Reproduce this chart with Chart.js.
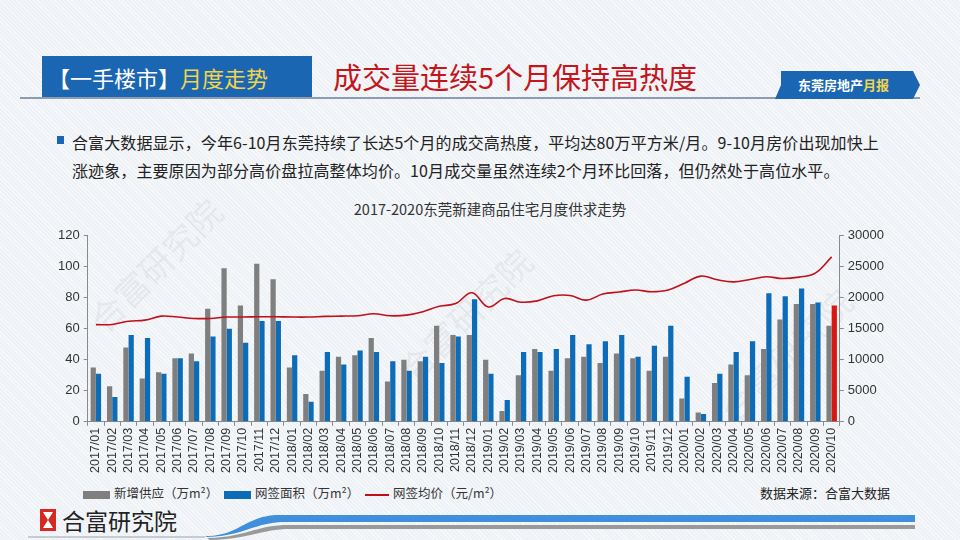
<!DOCTYPE html>
<html>
<head>
<meta charset="utf-8">
<script src="https://cdn.jsdelivr.net/npm/chart.js@4"></script>
<style>
  html, body { margin: 0; padding: 0; }
  body {
    width: 960px; height: 540px; position: relative; overflow: hidden;
    font-family: "Noto Sans CJK SC", "Liberation Sans", sans-serif;
    background-color: #eef1f5;
    background-image: repeating-linear-gradient(45deg, rgba(255,255,255,0.55) 0 1px, transparent 1px 3px);
  }
  .abs { position: absolute; }
  .wm { position: absolute; color: rgba(150,160,175,0.14); font-size: 34px; transform: rotate(-45deg); white-space: nowrap; }
  #hdrBox { left: 42px; top: 56px; width: 270px; height: 42px; background: #1a66b3; color: #fff; font-size: 22px; line-height: 42px; padding-left: 6px; box-sizing: border-box; }
  #hdrBox span { color: #f3d54a; }
  #hdrTitle { left: 333px; top: 56px; font-size: 29px; color: #c3161c; line-height: 40px; }
  #hdrLine { left: 20px; top: 97px; width: 900px; height: 2px; background: #8c9db3; }
  #tag { left: 775px; top: 71px; width: 145px; height: 28px; }
  #tagText { left: 798px; top: 71px; line-height: 28px; font-size: 13px; font-weight: bold; color: #fff; }
  #tagText span { color: #f3d54a; }
  .txt { left: 72px; font-size: 16px; letter-spacing: 0.1px; color: #222; white-space: nowrap; }
  #bullet { left: 57px; top: 136px; width: 7px; height: 8px; background: #1a66b3; }
  #ctitle { left: 290px; width: 400px; top: 198px; text-align: center; font-size: 14.5px; color: #333; }
  #wrap { left: 40px; top: 224px; width: 852px; height: 251px; }
  .lg { top: 484px; font-size: 12.5px; color: #333; line-height: 18px; white-space: nowrap; }
  .sw { display: inline-block; vertical-align: middle; margin-right: 4px; }
  #src { left: 760px; top: 484px; font-size: 13px; color: #222; line-height: 18px; }
  #logoText { left: 62px; top: 504px; font-size: 23px; color: #222; line-height: 32px; }
</style>
</head>
<body>
<div class="wm" style="left:70px;top:240px;">合富研究院</div>
<div class="wm" style="left:380px;top:290px;">合富研究院</div>
<div class="wm" style="left:700px;top:330px;">合富研究院</div>

<div id="hdrBox" class="abs">【一手楼市】<span>月度走势</span></div>
<div id="hdrTitle" class="abs">成交量连续5个月保持高热度</div>
<div id="hdrLine" class="abs"></div>
<svg id="tag" class="abs" viewBox="0 0 145 28"><polygon points="6,0 138,0 145,14 138,28 0,28 6,14" fill="#1a66b3"/></svg>
<div id="tagText" class="abs">东莞房地产<span>月报</span></div>

<div id="bullet" class="abs"></div>
<div class="abs txt" style="top:130px;">合富大数据显示，今年6-10月东莞持续了长达5个月的成交高热度，平均达80万平方米/月。9-10月房价出现加快上</div>
<div class="abs txt" style="top:158px;">涨迹象，主要原因为部分高价盘拉高整体均价。10月成交量虽然连续2个月环比回落，但仍然处于高位水平。</div>

<div id="ctitle" class="abs">2017-2020东莞新建商品住宅月度供求走势</div>
<div id="wrap" class="abs"><canvas id="c"></canvas></div>

<div class="abs lg" style="left:83px;"><span class="sw" style="width:27px;height:8px;background:#7f7f7f;"></span>新增供应（万m²）</div>
<div class="abs lg" style="left:224px;"><span class="sw" style="width:27px;height:8px;background:#0d6cb8;"></span>网签面积（万m²）</div>
<div class="abs lg" style="left:365px;"><span class="sw" style="width:24px;height:2px;background:#c0101a;"></span>网签均价（元/m²）</div>
<div id="src" class="abs">数据来源：合富大数据</div>

<svg class="abs" style="left:40px;top:509px;" width="16" height="22" viewBox="0 0 16 22">
  <rect width="16" height="22" fill="#d42a22"/>
  <polygon points="3,3 13,3 8,11 13,19 3,19 8,11" fill="#fff"/>
</svg>
<div id="logoText" class="abs">合富研究院</div>
<svg class="abs" style="left:0;top:505px;" width="960" height="35" viewBox="0 0 960 35">
  <path d="M28 32 L205 32" stroke="#9aa3ad" stroke-width="1.2" fill="none"/>
  <path d="M205 31 C240 31 245 10 280 10 L915 10 L915 17 L285 17 C255 17 245 31 207 32 Z" fill="#3f8fdc"/>
  <path d="M207 33 C245 33 255 20 288 20 L915 20 L915 24 L290 24 C262 24 250 34 210 35 Z" fill="#9a9a9a"/>
</svg>

<script>
const months = [
  "2017/01","2017/02","2017/03","2017/04","2017/05","2017/06","2017/07","2017/08","2017/09","2017/10","2017/11","2017/12",
  "2018/01","2018/02","2018/03","2018/04","2018/05","2018/06","2018/07","2018/08","2018/09","2018/10","2018/11","2018/12",
  "2019/01","2019/02","2019/03","2019/04","2019/05","2019/06","2019/07","2019/08","2019/09","2019/10","2019/11","2019/12",
  "2020/01","2020/02","2020/03","2020/04","2020/05","2020/06","2020/07","2020/08","2020/09","2020/10"
];
// 新增供应（万m²）
const supply = [
  35, 23, 48, 28, 32, 41, 44, 73, 99, 75, 102, 92,
  35, 18, 33, 42, 43, 54, 26, 40, 39, 62, 56, 56,
  40, 7, 30, 47, 33, 41, 42, 38, 44, 41, 33, 42,
  15, 6, 25, 37, 30, 47, 66, 76, 76, 62
];
// 网签面积（万m²）
const signed = [
  31, 16, 56, 54, 31, 41, 39, 55, 60, 51, 65, 65,
  43, 13, 45, 37, 46, 45, 39, 33, 42, 38, 55, 79,
  31, 14, 45, 45, 47, 56, 50, 52, 56, 42, 49, 62,
  29, 5, 31, 45, 52, 83, 81, 86, 77, 75
];
// 网签均价（元/m²）
const price = [
  15680, 15700, 16230, 16400, 17050, 16900, 16670, 16670, 16900, 16900, 16950, 16940,
  16900, 16900, 17000, 17050, 17100, 17430, 17100, 17210, 17760, 18630, 19070, 20820,
  18520, 19890, 19290, 19510, 20330, 20380, 19620, 20600, 20930, 21260, 20980, 21260,
  22350, 23500, 22900, 22570, 22950, 23390, 23110, 23340, 23990, 26610
];
const leftTicks = [0, 20, 40, 60, 80, 100, 120];
const rightTicks = [0, 5000, 10000, 15000, 20000, 25000, 30000];

const signedColors = signed.map((v, i) => i === signed.length - 1 ? "#d9160f" : "#0d6cb8");

const axisColor = "#8a8a8a";
const tickFont = { family: "Liberation Sans", size: 12.5 };

new Chart(document.getElementById("c"), {
  data: {
    labels: months,
    datasets: [
      {
        type: "line",
        label: "网签均价（元/m²）",
        data: price,
        yAxisID: "y1",
        borderColor: "#c0101a",
        borderWidth: 1.6,
        pointRadius: 0,
        tension: 0.4,
        order: 0,
      },
      {
        type: "bar",
        label: "新增供应（万m²）",
        data: supply,
        yAxisID: "y",
        backgroundColor: "#7f7f7f",
        categoryPercentage: 0.64,
        barPercentage: 1.0,
        order: 1,
      },
      {
        type: "bar",
        label: "网签面积（万m²）",
        data: signed,
        yAxisID: "y",
        backgroundColor: signedColors,
        categoryPercentage: 0.64,
        barPercentage: 1.0,
        order: 1,
      },
    ],
  },
  options: {
    responsive: true,
    maintainAspectRatio: false,
    animation: false,
    layout: { padding: { left: 14, right: 4, top: 4, bottom: 0 } },
    plugins: {
      legend: { display: false },
      tooltip: { enabled: false },
    },
    scales: {
      x: {
        offset: true,
        grid: { display: true, drawOnChartArea: false, offset: true, tickLength: 4, color: axisColor },
        border: { display: true, color: axisColor },
        ticks: { minRotation: 90, maxRotation: 90, autoSkip: false, color: "#333", font: tickFont, padding: 2 },
      },
      y: {
        position: "left",
        min: 0,
        max: 120,
        afterBuildTicks: (axis) => { axis.ticks = leftTicks.map(v => ({ value: v })); },
        grid: { display: true, drawOnChartArea: false, tickLength: 4, color: axisColor },
        border: { display: true, color: axisColor },
        ticks: { color: "#333", font: { family: "Liberation Sans", size: 13 }, padding: 4 },
      },
      y1: {
        position: "right",
        min: 0,
        max: 30000,
        afterBuildTicks: (axis) => { axis.ticks = rightTicks.map(v => ({ value: v })); },
        grid: { display: true, drawOnChartArea: false, tickLength: 4, color: axisColor },
        border: { display: true, color: axisColor },
        ticks: { color: "#333", font: { family: "Liberation Sans", size: 13 }, padding: 4, callback: (v) => String(v) },
      },
    },
  },
});
</script>
</body>
</html>
